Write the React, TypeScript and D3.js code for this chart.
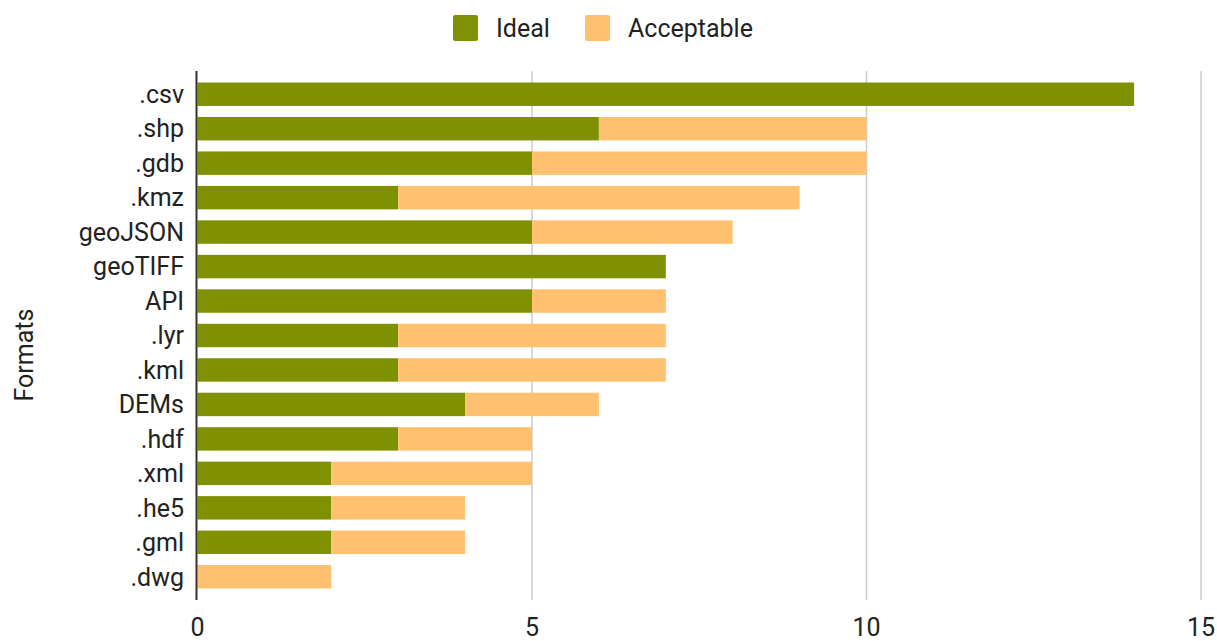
import React from "react";
import * as d3 from "d3";

const categories = [".csv", ".shp", ".gdb", ".kmz", "geoJSON", "geoTIFF", "API", ".lyr", ".kml", "DEMs", ".hdf", ".xml", ".he5", ".gml", ".dwg"];
const ideal = [14, 6, 5, 3, 5, 7, 5, 3, 3, 4, 3, 2, 2, 2, 0];
const acceptable = [0, 4, 5, 6, 3, 0, 2, 4, 4, 2, 2, 3, 2, 2, 2];
const xTicks = [0, 5, 10, 15];
const seriesNames = ["Ideal", "Acceptable"];
const colors = ["#7f9100", "#ffc070"];

const W = 1217;
const H = 641;
const FONT = "Roboto, 'Noto Sans', sans-serif";
const FS = 25;

export default function App() {
  const x = d3.scaleLinear().domain([0, 15]).range([197.5, 1201]);
  const y = d3.scaleBand<string>().domain(categories).range([77, 594]).paddingInner(0.32).paddingOuter(0.16);
  const rows = categories.map((c, i) => ({ c, i: ideal[i], a: acceptable[i] }));
  const stack = d3.stack<any>().keys(["i", "a"])(rows as any);
  const bw = y.bandwidth();
  return (
    <div style={{ position: "absolute", left: 0, top: 0 }}>
      <svg width={W} height={H} style={{ display: "block", fontFamily: FONT }}>
        <rect width={W} height={H} fill="#fff" />
        {xTicks.slice(1).map((t) => (
          <line key={t} x1={x(t)} x2={x(t)} y1={71} y2={600} stroke="#cccccc" strokeWidth={1.5} />
        ))}
        {stack.map((s, si) =>
          s.map((d, di) =>
            d[1] - d[0] > 0 ? (
              <rect
                key={si + "-" + di}
                x={x(d[0])}
                y={y(categories[di])}
                width={x(d[1]) - x(d[0])}
                height={bw}
                fill={colors[si]}
              />
            ) : null
          )
        )}
        <line x1={196.5} x2={196.5} y1={71} y2={600} stroke="#333" strokeWidth={2} />
        {categories.map((c) => (
          <text key={c} x={184} y={(y(c) as number) + bw / 2} dy="0.35em" textAnchor="end" fontSize={FS} fill="#222">
            {c}
          </text>
        ))}
        {xTicks.map((t) => (
          <text key={t} x={x(t)} y={635.5} textAnchor="middle" fontSize={FS} fill="#222">
            {t}
          </text>
        ))}
        <text transform="translate(24,355) rotate(-90)" textAnchor="middle" dy="0.35em" fontSize={FS} fill="#222">
          Formats
        </text>
        {seriesNames.map((n, i) => {
          const lx = [453, 585][i];
          return (
            <g key={n}>
              <rect x={lx} y={15} width={25} height={26} rx={2} fill={colors[i]} />
              <text x={lx + 43} y={28} dy="0.35em" fontSize={FS} fill="#222">
                {n}
              </text>
            </g>
          );
        })}
      </svg>
    </div>
  );
}
